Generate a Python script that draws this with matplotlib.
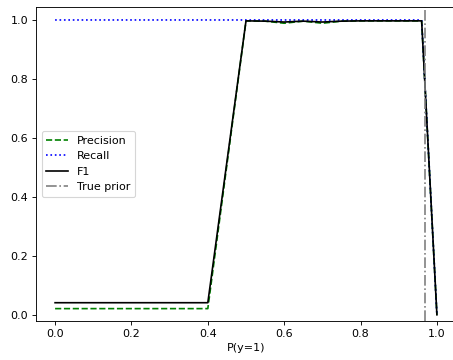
import matplotlib
matplotlib.use("Agg")
import matplotlib.pyplot as plt

# Data
p_y1 = [0.0, 0.1, 0.2, 0.3, 0.4, 0.5, 0.55, 0.6, 0.65, 0.7, 0.75, 0.8, 0.85, 0.9, 0.95, 0.96, 1.0]
precision = [0.021, 0.021, 0.021, 0.021, 0.021, 0.997, 0.996, 0.989, 0.996, 0.989, 0.996, 0.997, 0.997, 0.997, 0.997, 0.997, 0.0]
recall = [1.0, 1.0, 1.0, 1.0, 1.0, 1.0, 1.0, 1.0, 1.0, 1.0, 1.0, 1.0, 1.0, 1.0, 1.0, 1.0, 0.0]
f1 = [0.041, 0.041, 0.041, 0.041, 0.041, 0.997, 0.996, 0.993, 0.996, 0.993, 0.996, 0.997, 0.997, 0.997, 0.997, 0.997, 0.0]
true_prior = 0.97

DPI = 80
fig = plt.figure(figsize=(453 / DPI, 360 / DPI), dpi=DPI)
ax = fig.add_axes([36 / 453, 39 / 360, 420 / 453, 314 / 360])

ax.plot(p_y1, precision, color="green", linestyle="--", label="Precision")
ax.plot(p_y1, recall, color="blue", linestyle=":", label="Recall")
ax.plot(p_y1, f1, color="black", linestyle="-", label="F1")
ax.axvline(true_prior, color="gray", linestyle="-.", label="True prior")

ax.set_xlim(-0.05, 1.05)
ax.set_ylim(-0.021, 1.044)
ax.set_xticks([0.0, 0.2, 0.4, 0.6, 0.8, 1.0])
ax.set_yticks([0.0, 0.2, 0.4, 0.6, 0.8, 1.0])
ax.set_xlabel("P(y=1)")
ax.legend(loc="center left")

fig.savefig("out.png", dpi=DPI)
